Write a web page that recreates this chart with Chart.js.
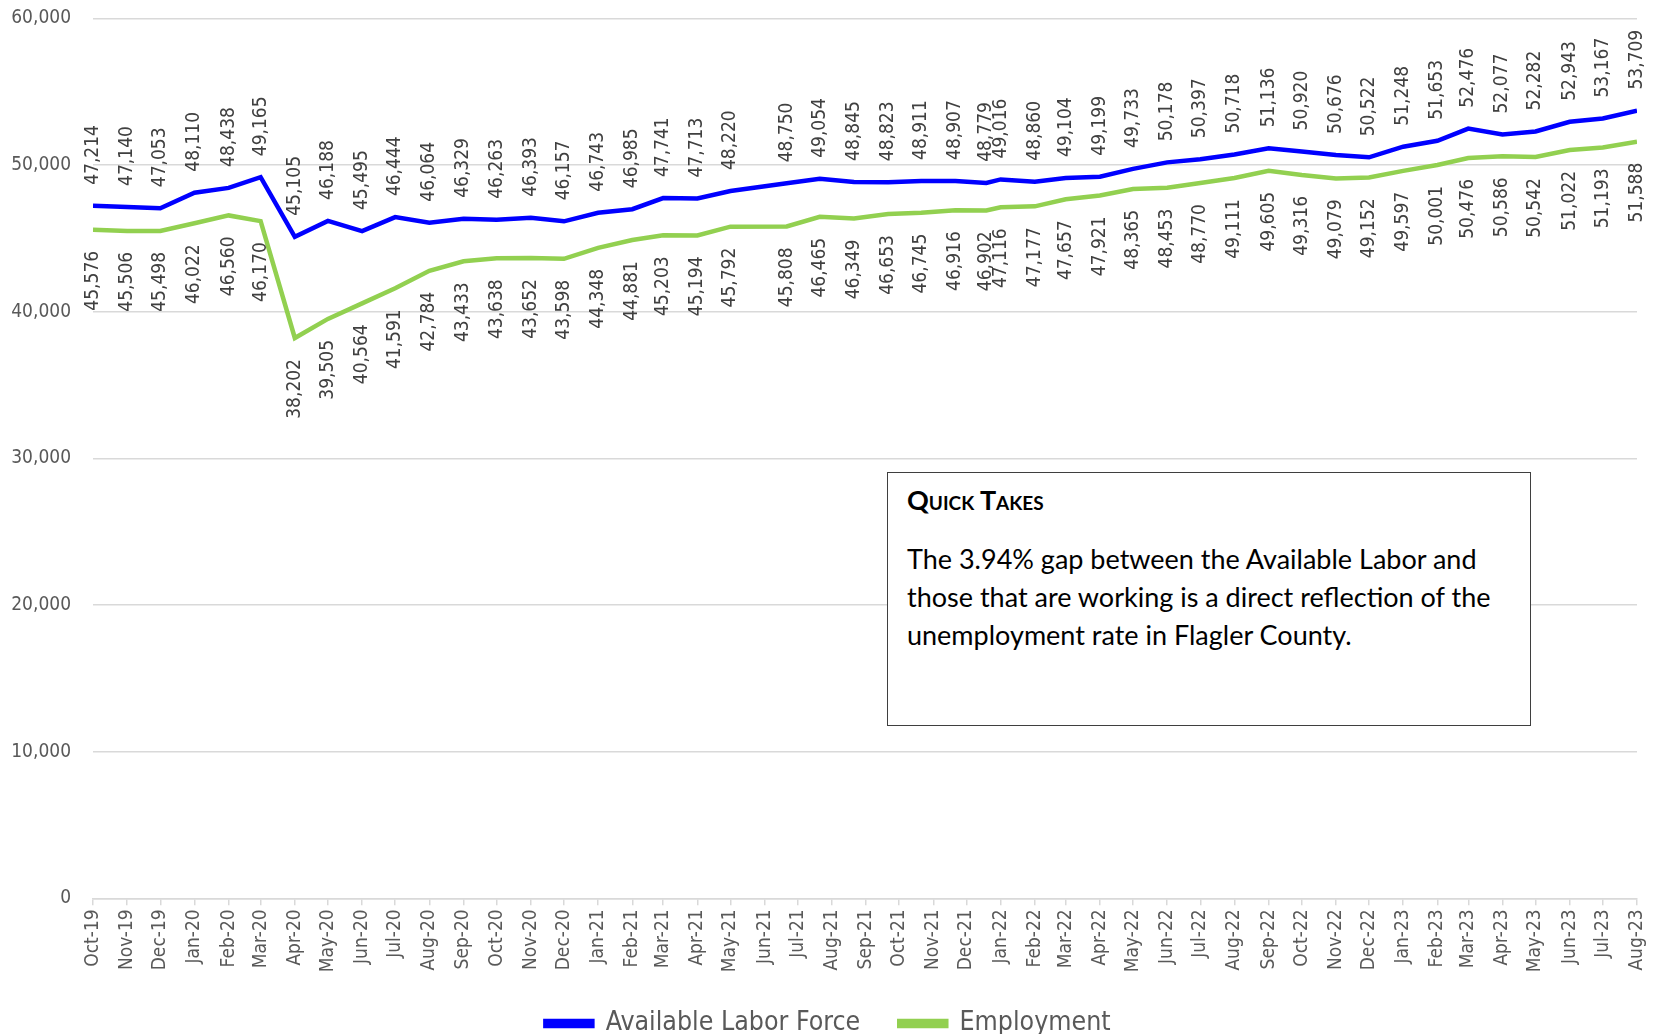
<!DOCTYPE html>
<html>
<head>
<meta charset="utf-8">
<script src="https://cdn.jsdelivr.net/npm/chart.js@4.4.1/dist/chart.umd.min.js"></script>
<style>
  html, body { margin: 0; padding: 0; background: #ffffff; }
  #wrap { position: relative; width: 1656px; height: 1034px; overflow: hidden; }
  #c { position: absolute; left: 0; top: 0; }
  #box {
    position: absolute; left: 887px; top: 472px; width: 644px; height: 254px;
    box-sizing: border-box; border: 1.5px solid #3f3f3f; background: #ffffff;
    font-family: Lato, "Open Sans", sans-serif; color: #000000;
  }
  #box .h {
    position: absolute; left: 19px; top: 8px; line-height: 38px; white-space: nowrap;
    font-weight: bold; font-variant: small-caps; font-size: 27px;
  }
  #box .t {
    position: absolute; left: 19px; top: 67px; line-height: 38px; white-space: nowrap;
    font-size: 27px;
  }
</style>
</head>
<body>
<div id="wrap">
  <canvas id="c" width="1656" height="1034"></canvas>
  <div id="box">
    <div class="h">Quick Takes</div>
    <div class="t">The 3.94% gap between the Available Labor and<br>those that are working is a direct reflection of the<br>unemployment rate in Flagler County.</div>
  </div>
</div>
<script>
// ---------------- DATA ----------------
const categories = [
  "Oct-19","Nov-19","Dec-19",
  "Jan-20","Feb-20","Mar-20","Apr-20","May-20","Jun-20","Jul-20","Aug-20","Sep-20","Oct-20","Nov-20","Dec-20",
  "Jan-21","Feb-21","Mar-21","Apr-21","May-21","Jun-21","Jul-21","Aug-21","Sep-21","Oct-21","Nov-21","Dec-21",
  "Jan-22","Feb-22","Mar-22","Apr-22","May-22","Jun-22","Jul-22","Aug-22","Sep-22","Oct-22","Nov-22","Dec-22",
  "Jan-23","Feb-23","Mar-23","Apr-23","May-23","Jun-23","Jul-23","Aug-23"
];

const pointDates = [
  "2019-10-01","2019-11-01","2019-12-01",
  "2020-01-01","2020-02-01","2020-03-01","2020-04-01","2020-05-01","2020-06-01","2020-07-01","2020-08-01","2020-09-01","2020-10-01","2020-11-01","2020-12-01",
  "2021-01-01","2021-02-01","2021-03-01","2021-04-01","2021-05-01","2021-06-21","2021-07-21","2021-08-21","2021-09-21","2021-10-21","2021-11-21","2021-12-19",
  "2022-01-01","2022-02-01","2022-03-01","2022-04-01","2022-05-01","2022-06-01","2022-07-01","2022-08-01","2022-09-01","2022-10-01","2022-11-01","2022-12-01",
  "2023-01-01","2023-02-01","2023-03-01","2023-04-01","2023-05-01","2023-06-01","2023-07-01","2023-08-01"
];

const laborForce = [
  47214, 47140, 47053,
  48110, 48438, 49165, 45105, 46188, 45495, 46444, 46064, 46329, 46263, 46393, 46157,
  46743, 46985, 47741, 47713, 48220, 48750, 49054, 48845, 48823, 48911, 48907, 48779,
  49016, 48860, 49104, 49199, 49733, 50178, 50397, 50718, 51136, 50920, 50676, 50522,
  51248, 51653, 52476, 52077, 52282, 52943, 53167, 53709
];

const employment = [
  45576, 45506, 45498,
  46022, 46560, 46170, 38202, 39505, 40564, 41591, 42784, 43433, 43638, 43652, 43598,
  44348, 44881, 45203, 45194, 45792, 45808, 46465, 46349, 46653, 46745, 46916, 46902,
  47116, 47177, 47657, 47921, 48365, 48453, 48770, 49111, 49605, 49316, 49079, 49152,
  49597, 50001, 50476, 50586, 50542, 51022, 51193, 51588
];

const yTickValues = [0, 10000, 20000, 30000, 40000, 50000, 60000];
const seriesNames = ["Available Labor Force", "Employment"];

// ---------------- HELPERS ----------------
const DAY = 86400000;
const ORIGIN = Date.UTC(2019, 9, 1);
const MONTHS = {Jan:0,Feb:1,Mar:2,Apr:3,May:4,Jun:5,Jul:6,Aug:7,Sep:8,Oct:9,Nov:10,Dec:11};
const dayOfIso = s => (Date.parse(s + "T00:00:00Z") - ORIGIN) / DAY;
const dayOfCat = c => {
  const [m, y] = c.split("-");
  return (Date.UTC(2000 + Number(y), MONTHS[m], 1) - ORIGIN) / DAY;
};
const tickDays = categories.map(dayOfCat);
const fmt = v => Number(v).toLocaleString("en-US");

const FONT = "'DejaVu Sans Condensed', 'DejaVu Sans', sans-serif";

// value labels drawn rotated, above (labor force) / below (employment)
const valueLabels = {
  id: "valueLabels",
  afterDatasetsDraw(chart) {
    const ctx = chart.ctx;
    chart.data.datasets.forEach((ds, di) => {
      const meta = chart.getDatasetMeta(di);
      meta.data.forEach((pt, i) => {
        const v = ds.data[i].y;
        ctx.save();
        ctx.translate(pt.x, pt.y + (di === 0 ? -21 : 21));
        ctx.rotate(-Math.PI / 2);
        ctx.font = "19px " + FONT;
        ctx.fillStyle = "#404040";
        ctx.textBaseline = "middle";
        ctx.textAlign = di === 0 ? "left" : "right";
        ctx.fillText(fmt(v), 0, 0);
        ctx.restore();
      });
    });
  }
};

const AREA_TOP = 18.3;
const AREA_BOTTOM = 898.3;
const AREA_LEFT = 93;
const AREA_RIGHT = 1637;
const X_AXIS_H = 73;
const LEGEND_PAD = 39;
const LEGEND_CENTER = 828;

// centre the legend on the page rather than on the padded width
const legendCentre = {
  id: "legendCentre",
  afterLayout(chart) {
    const l = chart.legend;
    if (!l) return;
    const shift = LEGEND_CENTER - (l.left + l.right) / 2;
    l.left += shift;
    l.right += shift;
  }
};

new Chart(document.getElementById("c"), {
  type: "line",
  data: {
    datasets: [
      {
        label: seriesNames[0],
        data: laborForce.map((v, i) => ({x: dayOfIso(pointDates[i]), y: v})),
        borderColor: "#0000ff",
        backgroundColor: "#0000ff",
        borderWidth: 4.5,
        pointRadius: 0,
        tension: 0,
        fill: false
      },
      {
        label: seriesNames[1],
        data: employment.map((v, i) => ({x: dayOfIso(pointDates[i]), y: v})),
        borderColor: "#92d050",
        backgroundColor: "#92d050",
        borderWidth: 4.5,
        pointRadius: 0,
        tension: 0,
        fill: false
      }
    ]
  },
  options: {
    responsive: false,
    animation: false,
    devicePixelRatio: 1,
    layout: {
      padding: {
        left: 0,
        right: 1656 - AREA_RIGHT,
        top: AREA_TOP,
        bottom: 1034 - AREA_BOTTOM - X_AXIS_H - (26.5 + LEGEND_PAD + 10)
      }
    },
    plugins: {
      tooltip: { enabled: false },
      legend: {
        position: "bottom",
        labels: {
          font: { family: FONT, size: 26.5 },
          color: "#595959",
          boxWidth: 47,
          boxHeight: 5,
          padding: LEGEND_PAD
        }
      }
    },
    scales: {
      x: {
        type: "linear",
        min: tickDays[0],
        max: tickDays[tickDays.length - 1],
        afterBuildTicks: s => { s.ticks = tickDays.map(v => ({ value: v })); },
        afterFit: s => { s.height = X_AXIS_H; s.paddingLeft = 0; s.paddingRight = 0; },
        ticks: {
          autoSkip: false,
          minRotation: 90,
          maxRotation: 90,
          padding: 4,
          color: "#595959",
          font: { family: FONT, size: 19 },
          callback: (v, i) => categories[i]
        },
        grid: {
          drawOnChartArea: false,
          drawTicks: true,
          tickLength: 7,
          color: "#d9d9d9",
          lineWidth: 1.5
        },
        border: { display: true, color: "#d9d9d9", width: 1.5 }
      },
      y: {
        min: 0,
        max: 60000,
        afterBuildTicks: s => { s.ticks = yTickValues.map(v => ({ value: v })); },
        afterFit: s => { s.width = AREA_LEFT; s.paddingTop = 0; s.paddingBottom = 0; },
        ticks: {
          padding: 22,
          color: "#595959",
          font: { family: FONT, size: 19 },
          callback: v => fmt(v)
        },
        grid: { color: "#d9d9d9", lineWidth: 1.5, drawTicks: false },
        border: { display: false }
      }
    }
  },
  plugins: [valueLabels, legendCentre]
});
</script>
</body>
</html>
